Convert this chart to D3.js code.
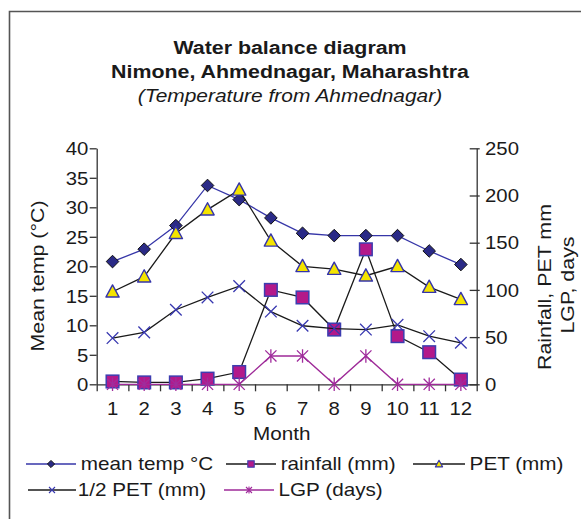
<!DOCTYPE html>
<html>
<head>
<meta charset="utf-8">
<script src="https://cdn.jsdelivr.net/npm/d3@7"></script>
<style>
  html, body { margin: 0; padding: 0; background: #fff; }
  svg { display: block; }
  text { font-family: "Liberation Sans", Arial, Helvetica, sans-serif; fill: #1a1a1a; }
</style>
</head>
<body>
<svg id="chart" width="581" height="519"></svg>
<script>
// Monthly climate values for Nimone, Ahmednagar
const months = [1, 2, 3, 4, 5, 6, 7, 8, 9, 10, 11, 12];
const meanTemp = [20.8, 22.9, 26.9, 33.7, 31.3, 28.2, 25.6, 25.2, 25.2, 25.2, 22.6, 20.3]; // °C, left axis
const rainfall = [3, 2, 2, 6, 13, 100, 92, 58, 143, 51, 34, 5];                          // mm, right axis
const pet      = [98, 114, 160, 185, 206, 152, 125, 122, 115, 125, 103, 90];            // mm, right axis
const halfPet  = [49, 55, 79, 92, 104, 77, 62, 59, 58, 63, 51, 44];                     // mm, right axis
const lgp      = [0, 0, 0, 0, 0, 30, 30, 0, 30, 0, 0, 0];                               // days, right axis

const leftTicks = [0, 5, 10, 15, 20, 25, 30, 35, 40];
const rightTicks = [0, 50, 100, 150, 200, 250];

const titleLines = ["Water balance diagram", "Nimone, Ahmednagar, Maharashtra", "(Temperature from Ahmednagar)"];

// Glyphs in this chart are set a little wider than the stock face
const SX = 1.15;

const svg = d3.select("#chart");

// Outer frame (top and left edges)
svg.append("path")
  .attr("d", "M9.5,519 L9.5,11.5 L581,11.5")
  .attr("fill", "none").attr("stroke", "#555").attr("stroke-width", 1.6);

// Title
const titleSpec = [
  { y: 53.5, size: 18.6, weight: "bold", style: "normal" },
  { y: 77.5, size: 18.6, weight: "bold", style: "normal" },
  { y: 101.5, size: 18.2, weight: "normal", style: "italic" }
];
titleLines.forEach((t, i) => {
  svg.append("text")
    .attr("transform", `translate(290,${titleSpec[i].y}) scale(${SX},1)`)
    .attr("text-anchor", "middle")
    .style("font-size", titleSpec[i].size + "px")
    .style("font-weight", titleSpec[i].weight)
    .style("font-style", titleSpec[i].style)
    .text(t);
});

// Plot geometry
const x0 = 96.7, x1 = 476.7, yTop = 148.3, yBot = 384.3;

const x = d3.scaleBand().domain(months).range([x0, x1]);
const xEdge = d3.scaleLinear().domain([0, months.length]).range([x0, x1]);
const yL = d3.scaleLinear().domain([0, 40]).range([yBot, yTop]);
const yR = d3.scaleLinear().domain([0, 250]).range([yBot, yTop]);

const axisColor = "#333";
const tickFont = 17.7;

// Left axis
const gL = svg.append("g").attr("transform", `translate(${x0},0)`)
  .call(d3.axisLeft(yL).tickValues(leftTicks).tickSize(7).tickSizeOuter(0));
gL.selectAll("text")
  .attr("x", null).attr("dy", "0.35em")
  .attr("transform", `translate(-8.4,0) scale(${SX},1)`)
  .style("font-size", tickFont + "px");

// Right axis (ticks cross the line)
const gR = svg.append("g").attr("transform", `translate(${x1},0)`)
  .call(d3.axisRight(yR).tickValues(rightTicks).tickSize(3).tickSizeOuter(0));
gR.selectAll(".tick line").attr("x1", -7).attr("x2", 3);
gR.selectAll("text")
  .attr("x", null).attr("dy", "0.35em")
  .attr("transform", `translate(8.3,0) scale(${SX},1)`)
  .style("font-size", tickFont + "px");

// Bottom axis: ticks at month boundaries, labels at month centres
const gB = svg.append("g").attr("transform", `translate(0,${yBot})`)
  .call(d3.axisBottom(xEdge).tickValues(d3.range(0, months.length + 1)).tickSize(7).tickSizeOuter(0).tickFormat(""));
const gBL = svg.append("g").attr("transform", `translate(0,${yBot})`)
  .call(d3.axisBottom(x).tickSize(0).tickSizeOuter(0));
gBL.select(".domain").remove();
gBL.selectAll("text")
  .attr("y", null).attr("dy", null)
  .attr("transform", `translate(0,30.4) scale(${SX},1)`)
  .style("font-size", tickFont + "px");

[gL, gR, gB].forEach(g => {
  g.selectAll(".domain").attr("stroke", axisColor).attr("stroke-width", 1.3);
  g.selectAll(".tick line").attr("stroke", axisColor).attr("stroke-width", 1.3);
});
svg.selectAll(".tick text").attr("fill", "#1a1a1a").style("font-family", '"Liberation Sans", Arial, sans-serif');

// Axis titles
svg.append("text")
  .attr("transform", `translate(${x0 + (x1 - x0) / 2 - 5},439.5) scale(${SX},1)`)
  .attr("text-anchor", "middle").style("font-size", "18px")
  .text("Month");

svg.append("text")
  .attr("transform", `translate(43.5,276) rotate(-90) scale(${SX},1)`)
  .attr("text-anchor", "middle").style("font-size", "18.6px")
  .text("Mean temp (°C)");

svg.append("text")
  .attr("transform", `translate(550.5,287) rotate(-90) scale(${SX},1)`)
  .attr("text-anchor", "middle").style("font-size", "18.6px")
  .text("Rainfall, PET mm");
svg.append("text")
  .attr("transform", `translate(574,285) rotate(-90) scale(${SX},1)`)
  .attr("text-anchor", "middle").style("font-size", "18.6px")
  .text("LGP, days");

// Marker shapes
function marker(g, kind, s, st) {
  if (kind === "diamond") {
    g.append("path").attr("d", `M0,${-s}L${s},0L0,${s}L${-s},0Z`)
      .attr("fill", st.fill).attr("stroke", st.stroke).attr("stroke-width", st.sw);
  } else if (kind === "square") {
    g.append("rect").attr("x", -s).attr("y", -s).attr("width", 2 * s).attr("height", 2 * s)
      .attr("fill", st.fill).attr("stroke", st.stroke).attr("stroke-width", st.sw);
  } else if (kind === "triangle") {
    g.append("path").attr("d", `M0,${-s * 1.05}L${s},${s * 0.8}L${-s},${s * 0.8}Z`)
      .attr("fill", st.fill).attr("stroke", st.stroke).attr("stroke-width", st.sw).attr("stroke-linejoin", "round");
  } else if (kind === "x") {
    g.append("path").attr("d", `M${-s},${-s}L${s},${s}M${-s},${s}L${s},${-s}`)
      .attr("fill", "none").attr("stroke", st.stroke).attr("stroke-width", st.sw);
  } else if (kind === "star") {
    g.append("path").attr("d", `M${-s},${-s}L${s},${s}M${-s},${s}L${s},${-s}M0,${-s * 1.2}L0,${s * 1.2}`)
      .attr("fill", "none").attr("stroke", st.stroke).attr("stroke-width", st.sw);
  }
}

const series = [
  { name: "mean temp °C", values: meanTemp, y: yL, line: "#3636a8", kind: "diamond", size: 6.3,
    st: { fill: "#2a2a86", stroke: "#111", sw: 1 }, lsize: 3.6 },
  { name: "rainfall (mm)", values: rainfall, y: yR, line: "#1a1a1a", kind: "square", size: 6.3,
    st: { fill: "#b3198a", stroke: "#3d3db0", sw: 1.5 }, lsize: 3.2 },
  { name: "PET (mm)", values: pet, y: yR, line: "#1a1a1a", kind: "triangle", size: 6.6,
    st: { fill: "#f4e400", stroke: "#3434aa", sw: 1.4 }, lsize: 3.6 },
  { name: "1/2 PET (mm)", values: halfPet, y: yR, line: "#1a1a1a", kind: "x", size: 5.8,
    st: { stroke: "#3838b0", sw: 1.3 }, lsize: 3 },
  { name: "LGP (days)", values: lgp, y: yR, line: "#9e2a98", kind: "star", size: 5.6,
    st: { stroke: "#a02c9c", sw: 1.3 }, lsize: 3 }
];

const cx = m => x(m) + x.bandwidth() / 2;

series.forEach(s => {
  const line = d3.line().x((d, i) => cx(months[i])).y(d => s.y(d));
  svg.append("path").datum(s.values)
    .attr("d", line).attr("fill", "none")
    .attr("stroke", s.line).attr("stroke-width", 1.3);
  s.values.forEach((v, i) => {
    const g = svg.append("g").attr("transform", `translate(${cx(months[i])},${s.y(v)})`);
    marker(g, s.kind, s.size, s.st);
  });
});

// Legend
const legendPos = [
  { x1: 26, x2: 76, tx: 80.7, y: 464 },
  { x1: 226, x2: 276, tx: 280.7, y: 464 },
  { x1: 413, x2: 465, tx: 469.6, y: 464 },
  { x1: 28, x2: 76, tx: 77.8, y: 490 },
  { x1: 224, x2: 274, tx: 278.5, y: 490 }
];
series.forEach((s, i) => {
  const p = legendPos[i];
  svg.append("line").attr("x1", p.x1).attr("x2", p.x2).attr("y1", p.y).attr("y2", p.y)
    .attr("stroke", s.line).attr("stroke-width", 1.3);
  const g = svg.append("g").attr("transform", `translate(${(p.x1 + p.x2) / 2},${p.y})`);
  marker(g, s.kind, s.lsize, Object.assign({}, s.st, { sw: Math.min(s.st.sw, 1.1) }));
  svg.append("text")
    .attr("transform", `translate(${p.tx},${p.y + 6.4}) scale(${SX},1)`)
    .style("font-size", "18px")
    .text(s.name);
});
</script>
</body>
</html>
